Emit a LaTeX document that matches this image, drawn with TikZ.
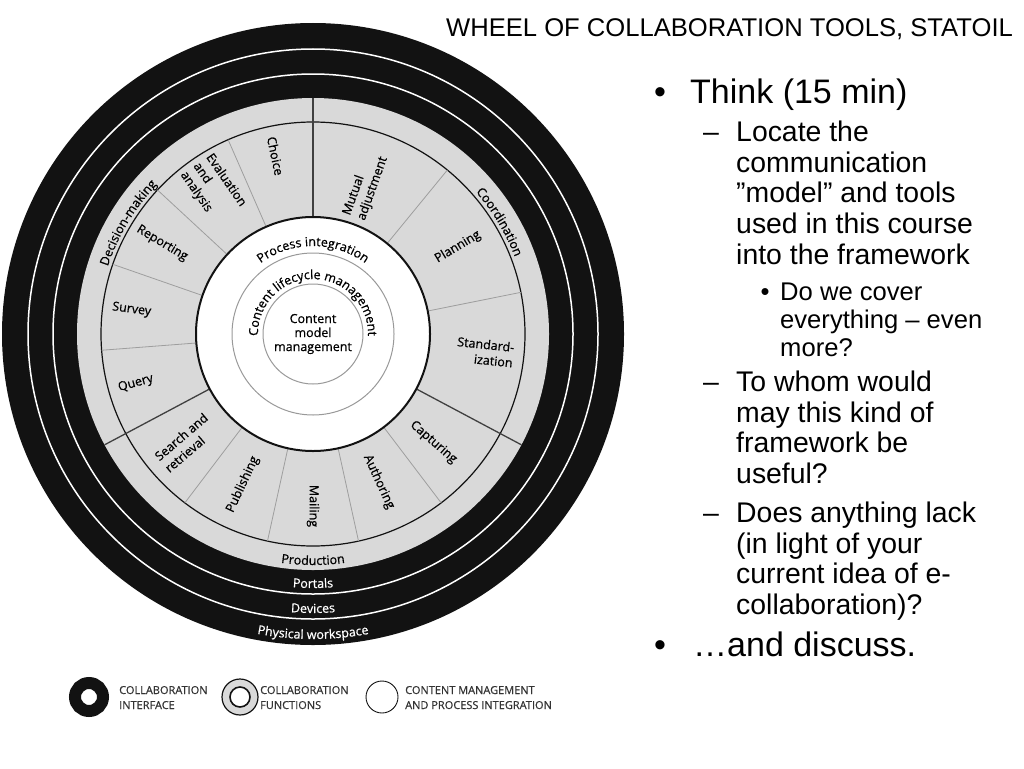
\documentclass[tikz,border=0pt]{standalone}
\usepackage{fontspec}
\setmainfont{Liberation Sans}
\newfontfamily\wheelfont[FakeBold=0.6]{Open Sans}
\usepackage{tikz}
\usetikzlibrary{decorations.text}

\definecolor{wheelgray}{gray}{0.85}
\definecolor{ringblack}{gray}{0.07}
\definecolor{minorgray}{gray}{0.62}
\definecolor{majorgray}{gray}{0.25}
\definecolor{circlegray}{gray}{0.6}
\definecolor{legendgray}{gray}{0.2}

\newcommand{\labelsize}{\fontsize{12.5}{15.5}\selectfont}
\newcommand{\bigsize}{\fontsize{34}{38}\selectfont}
\newcommand{\midsize}{\fontsize{28.4}{30.6}\selectfont}
\newcommand{\lowsize}{\fontsize{25.6}{28}\selectfont}
% text set along an arc: radius, start, end, format, text
\newcommand{\ringlabel}[5]{\path[decorate, decoration={text along path, text align=center, text={|#4|#5}}] (#2:#1) arc[start angle=#2, end angle=#3, radius=#1];}

\tikzset{
  sectorlabel/.style={inner sep=0pt, font=\wheelfont\labelsize, align=center},
  minorline/.style={draw=minorgray, line width=0.8pt},
  majorline/.style={draw=majorgray, line width=1.3pt},
  slidetext/.style={anchor=base west, inner sep=0pt, align=left},
  legendtext/.style={anchor=base west, inner sep=0pt, align=left, text=legendgray, font=\wheelfont\fontsize{11}{15}\selectfont},
}

\begin{document}
\begin{tikzpicture}[x=1pt,y=1pt]
\useasboundingbox (0,0) rectangle (1024,-768);

\node[anchor=base east, inner sep=0pt, font=\lowsize] (title) at (1013,-37) {WHEEL OF COLLABORATION TOOLS, STATOIL};

\begin{scope}[shift={(313,-334)}]
  % collaboration interface
  \fill[ringblack] (0,0) circle[radius=311];
  \draw[white, line width=1.5pt] (0,0) circle[radius=285];
  \draw[white, line width=1.5pt] (0,0) circle[radius=260];
  % collaboration functions
  \fill[wheelgray] (0,0) circle[radius=236];
  \draw[ringblack, line width=1.2pt] (0,0) circle[radius=212];
  \foreach \a in {113.6,137.2,160.8,184.4,50.67,11.33,232.8,257.6,282.4,307.2}
    \draw[minorline] (\a:117) -- (\a:212);
  \foreach \a in {90,-28,208}
    \draw[majorline] (\a:117) -- (\a:236);
  % content management and process integration
  \filldraw[fill=white, draw=ringblack, line width=2pt] (0,0) circle[radius=117];
  \draw[circlegray, line width=1pt] (0,0) circle[radius=81];
  \draw[circlegray, line width=1pt] (0,0) circle[radius=50];

  \node[sectorlabel, font=\wheelfont\fontsize{12.5}{14}\selectfont] (contentmodel) at (0,0) {Content\\model\\management};
  \ringlabel{55}{200}{-20}{\wheelfont\labelsize}{Content lifecycle management}
  \ringlabel{88}{150}{30}{\wheelfont\labelsize}{Process integration}

  \node[sectorlabel, rotate=-78.1] (choice) at (101.9:182) {Choice};
  \node[sectorlabel, rotate=-55.4, align=left] (evaluation) at (124.6:176) {Evaluation\\and\\analysis};
  \node[sectorlabel, rotate=-31] (reporting) at (149:176) {Reporting};
  \node[sectorlabel, rotate=-7.6] (survey) at (172.4:183) {Survey};
  \node[sectorlabel, rotate=15.6] (query) at (195.6:184) {Query};
  \node[sectorlabel, rotate=70.3, align=left] (mutual) at (70.5:157) {Mutual\\adjustment};
  \node[sectorlabel, rotate=31] (planning) at (31:169) {Planning};
  \node[sectorlabel, rotate=-6, align=right] (standard) at (-6:173) {Standard-\\ization};
  \node[sectorlabel, rotate=-41] (capturing) at (-42:162) {Capturing};
  \node[sectorlabel, rotate=-65.2] (authoring) at (294:162) {Authoring};
  \node[sectorlabel, rotate=-90] (mailing) at (270:172) {Mailing};
  \node[sectorlabel, rotate=65] (publishing) at (245:166) {Publishing};
  \node[sectorlabel, rotate=40.5, align=left] (search) at (220.6:167) {Search and\\retrieval};

  \ringlabel{216}{179}{119}{\wheelfont\labelsize}{Decision-making}
  \ringlabel{216}{61}{1}{\wheelfont\labelsize}{Coordination}
  \ringlabel{231}{240}{300}{\wheelfont\labelsize}{Production}
  \ringlabel{254}{240}{300}{\wheelfont\labelsize\color{white}}{Portals}
  \ringlabel{279}{240}{300}{\wheelfont\labelsize\color{white}}{Devices}
  \ringlabel{305}{230}{310}{\wheelfont\labelsize\color{white}}{Physical workspace}
\end{scope}

% legend (multi-line nodes sit on their last baseline)
\draw[ringblack, line width=12pt] (89,-697) circle[radius=14];
\node[legendtext] (interface) at (119,-709) {COLLABORATION\\INTERFACE};
\filldraw[fill=wheelgray, draw=ringblack, line width=1.2pt] (240,-697) circle[radius=18];
\filldraw[fill=white, draw=ringblack, line width=1.6pt] (240,-697) circle[radius=10];
\node[legendtext] (functions) at (260,-709) {COLLABORATION\\FUNCTIONS};
\draw[ringblack, line width=0.9pt] (382,-697) circle[radius=16];
\node[legendtext] (integration) at (405,-709) {CONTENT MANAGEMENT\\AND PROCESS INTEGRATION};

% bullet text
\node[anchor=base, inner sep=0pt, font=\bigsize] (bulletthink) at (660,-103) {•};
\node[slidetext, font=\bigsize] (think) at (690,-103) {Think (15 min)};
\node[slidetext, font=\midsize] (dashlocate) at (703,-141.7) {–};
\node[slidetext, font=\midsize] (locate) at (736,-264.1) {Locate the\\communication\\”model” and tools\\used in this course\\into the framework};
\node[anchor=base, inner sep=0pt, font=\lowsize] (bulletcover) at (765,-300) {•};
\node[slidetext, font=\lowsize] (cover) at (780,-356) {Do we cover\\everything – even\\more?};
\node[slidetext, font=\midsize] (dashwhom) at (703,-391.7) {–};
\node[slidetext, font=\midsize] (whom) at (736,-483.5) {To whom would\\may this kind of\\framework be\\useful?};
\node[slidetext, font=\midsize] (dashlack) at (703,-522.7) {–};
\node[slidetext, font=\midsize] (lack) at (736,-614.5) {Does anything lack\\(in light of your\\current idea of e-\\collaboration)?};
\node[anchor=base, inner sep=0pt, font=\bigsize] (bulletdiscuss) at (660,-656.7) {•};
\node[slidetext, font=\bigsize] (discuss) at (693,-656.7) {…and discuss.};
\end{tikzpicture}
\end{document}
